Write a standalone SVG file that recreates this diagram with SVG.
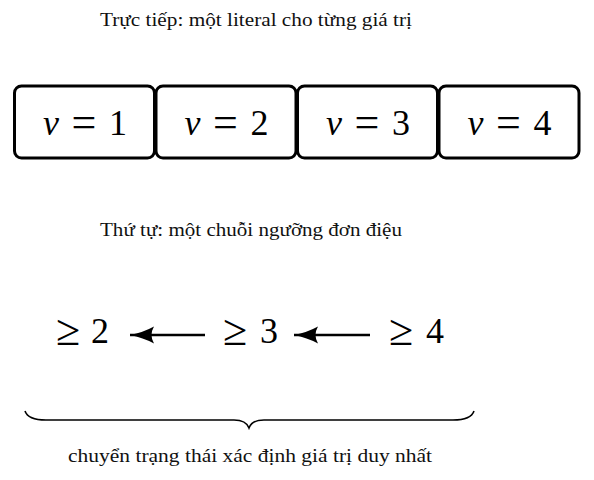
<svg xmlns="http://www.w3.org/2000/svg" width="594" height="480" viewBox="0 0 594 480">
<style>
.cap{font-family:"Liberation Serif","DejaVu Serif",serif;font-size:18px;fill:#111;text-anchor:middle}
.box{fill:#fff;stroke:#000;stroke-width:3}
.m{font-family:"Liberation Serif","DejaVu Serif",serif;font-size:36px;fill:#000;text-anchor:middle}
.mi{font-style:italic}
.op{font-size:44px}
.arr{stroke:#000;stroke-width:2.6;fill:none}
.brace{stroke:#000;stroke-width:1.6;fill:none}
</style>
<defs>
<marker id="head" markerUnits="userSpaceOnUse" markerWidth="30" markerHeight="22" refX="26" refY="11" orient="auto">
<path d="M26,11 Q13,8.5 2,2.5 Q7,11 2,19.5 Q13,13.5 26,11 Z" fill="#000"/>
</marker>
</defs>
<text class="cap" x="256" y="26" textLength="312" lengthAdjust="spacingAndGlyphs">Trực tiếp: một literal cho từng giá trị</text>
<g id="n1"><rect class="box" x="14.5" y="86" width="140" height="72" rx="7"/>
<text class="m" y="135"><tspan class="mi" x="51">v</tspan><tspan class="op" x="84" dy="1.5">=</tspan><tspan x="118" dy="-1.5">1</tspan></text></g>
<g id="n2"><rect class="box" x="156" y="86" width="140" height="72" rx="7"/>
<text class="m" y="135"><tspan class="mi" x="192.5">v</tspan><tspan class="op" x="225.5" dy="1.5">=</tspan><tspan x="259.5" dy="-1.5">2</tspan></text></g>
<g id="n3"><rect class="box" x="297.5" y="86" width="140" height="72" rx="7"/>
<text class="m" y="135"><tspan class="mi" x="334">v</tspan><tspan class="op" x="367" dy="1.5">=</tspan><tspan x="401" dy="-1.5">3</tspan></text></g>
<g id="n4"><rect class="box" x="439" y="86" width="140" height="72" rx="7"/>
<text class="m" y="135"><tspan class="mi" x="475.5">v</tspan><tspan class="op" x="508.5" dy="1.5">=</tspan><tspan x="542.5" dy="-1.5">4</tspan></text></g>
<text class="cap" x="251" y="236" textLength="302" lengthAdjust="spacingAndGlyphs">Thứ tự: một chuỗi ngưỡng đơn điệu</text>
<g id="t2"><text class="m" y="343"><tspan class="op" x="68" dy="1.5">≥</tspan><tspan x="100" dy="-1.5">2</tspan></text></g>
<g id="t3"><text class="m" y="343"><tspan class="op" x="235" dy="1.5">≥</tspan><tspan x="269" dy="-1.5">3</tspan></text></g>
<g id="t4"><text class="m" y="343"><tspan class="op" x="401" dy="1.5">≥</tspan><tspan x="435" dy="-1.5">4</tspan></text></g>
<g id="connectors">
<line class="arr" x1="205" y1="335" x2="130" y2="335" marker-end="url(#head)"/>
<line class="arr" x1="370" y1="335" x2="294" y2="335" marker-end="url(#head)"/>
</g>
<path class="brace" d="M25,411 Q28,420 46,420 L234,420 Q246,420 249,428 Q252,420 264,420 L453,420 Q471,420 474,411"/>
<text class="cap" x="250" y="462" textLength="364" lengthAdjust="spacingAndGlyphs">chuyển trạng thái xác định giá trị duy nhất</text>
</svg>
